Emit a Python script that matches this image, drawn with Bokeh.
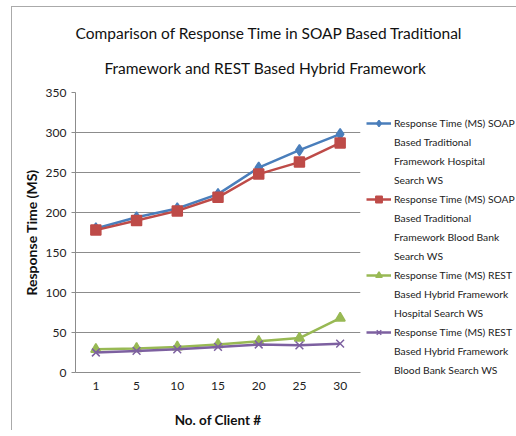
from bokeh.plotting import figure
from bokeh.models import (FactorRange, Range1d, FixedTicker, Legend, LegendItem, Title)
from bokeh.embed import file_html
from bokeh.resources import INLINE

clients = ["1", "5", "10", "15", "20", "25", "30"]
soap_hospital = [180, 194, 205, 223, 256, 278, 298]
soap_bloodbank = [178, 190, 202, 219, 248, 263, 287]
rest_hospital = [29, 30, 32, 35, 39, 43, 68]
rest_bloodbank = [25, 27, 29, 32, 35, 34, 36]
y_ticks = [0, 50, 100, 150, 200, 250, 300, 350]

labels = [
    ["Response Time (MS) SOAP", "Based Traditional", "Framework Hospital", "Search WS"],
    ["Response Time (MS) SOAP", "Based Traditional", "Framework Blood Bank", "Search WS"],
    ["Response Time (MS) REST", "Based Hybrid Framework", "Hospital Search WS"],
    ["Response Time (MS) REST", "Based Hybrid Framework", "Blood Bank Search WS"],
]
title_line1 = "Comparison of Response Time in SOAP Based Traditional"
title_line2 = "Framework and REST Based Hybrid Framework"
colors = ["#4A7EBB", "#BE4B48", "#98B954", "#7D60A0"]
FONT = "Lato"

p = figure(x_range=FactorRange(factors=clients), y_range=Range1d(0, 350),
           frame_width=285, frame_height=280,
           min_border_left=63, min_border_right=4, min_border_top=85, min_border_bottom=54,
           output_backend="svg", toolbar_location=None)
p.styles = {"border-left": "1px solid #aaaaaa", "border-top": "1px solid #aaaaaa",
            "margin-left": "11px", "margin-top": "6px"}

p.title.text = title_line1
p.title.align = "left"
p.title.offset = 0
p.title.standoff = 0
t2 = Title(text=title_line2, align="left", offset=29, standoff=31)
p.add_layout(t2, "above")
for t in (p.title, t2):
    t.text_font = FONT
    t.text_font_size = "15.5px"
    t.text_font_style = "normal"
    t.text_color = "#111111"

p.outline_line_color = None
p.xgrid.visible = False
p.ygrid.grid_line_color = "#8c8c8c"
p.yaxis.ticker = FixedTicker(ticks=y_ticks)
p.yaxis.minor_tick_line_color = None
p.yaxis.major_tick_in = 0
p.yaxis.major_tick_out = 4
p.xaxis.major_tick_in = 0
p.xaxis.major_tick_out = 0
for ax in (p.xaxis, p.yaxis):
    ax.axis_line_color = "#8c8c8c"
    ax.major_tick_line_color = "#8c8c8c"
    ax.major_label_text_font = FONT
    ax.major_label_text_font_size = "12px"
    ax.major_label_text_color = "#222222"
    ax.axis_label_text_font = FONT
    ax.axis_label_text_font_style = "bold"
    ax.axis_label_text_font_size = "13.5px"
    ax.axis_label_text_color = "#111111"
p.yaxis.axis_label_text_font_size = "14px"
p.xaxis.axis_label = "No. of Client #"
p.yaxis.axis_label = "Response Time (MS)"
p.xaxis.major_label_standoff = 9
p.xaxis.axis_label_standoff = 19
p.yaxis.axis_label_standoff = 3

series = [soap_hospital, soap_bloodbank, rest_hospital, rest_bloodbank]
markers = ["diamond", "square", "triangle", "x"]
sizes = [11, 10, 10, 11]
blank = p.line(x=[], y=[], line_alpha=0)
items = []
for vals, col, mk, sz, lab in zip(series, colors, markers, sizes, labels):
    ln = p.line(clients, vals, line_color=col, line_width=2.5)
    sc = p.scatter(clients, vals, marker=mk, size=sz, fill_color=col, line_color=col, line_width=1.5)
    items.append(LegendItem(label=lab[0], renderers=[ln, sc]))
    for extra in lab[1:]:
        items.append(LegendItem(label=extra, renderers=[blank]))

legend = Legend(items=items, location=(6, -6), label_text_font=FONT, label_text_font_size="10.3px",
                label_text_color="#222222", border_line_color=None, background_fill_alpha=0,
                glyph_width=25, glyph_height=16, label_height=16, label_standoff=3,
                spacing=3, padding=0, margin=0)
p.add_layout(legend, "right")

open("out.html", "w").write(file_html(p, INLINE))
